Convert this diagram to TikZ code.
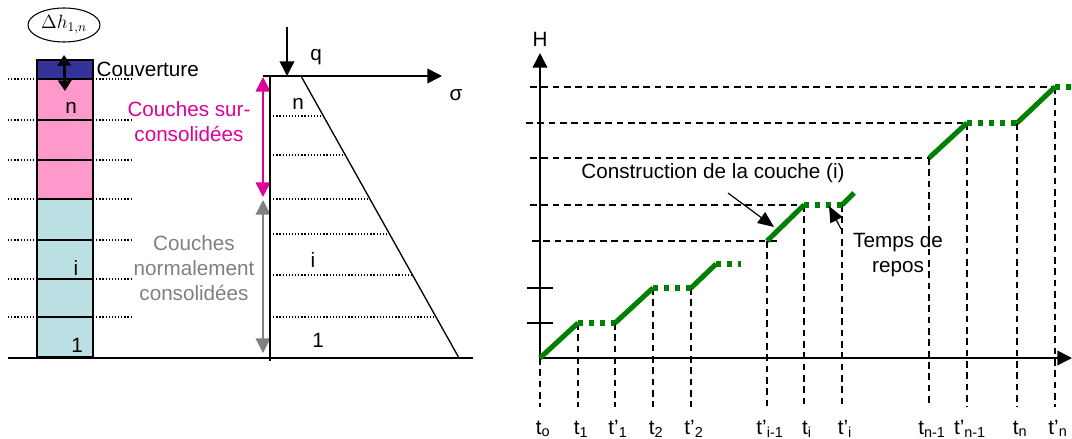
\documentclass[tikz,border=0pt]{standalone}
\usepackage{fontspec}
\setmainfont{Liberation Sans}
\usepackage{tikz}
\usetikzlibrary{arrows.meta,shapes.geometric}
\tikzset{>=Triangle}
\definecolor{rose}{RGB}{255,153,204}
\definecolor{turquoise}{RGB}{187,224,227}
\definecolor{bleucouv}{RGB}{51,51,153}
\definecolor{fuchsia}{RGB}{221,0,153}
\definecolor{gristexte}{RGB}{128,128,128}
\definecolor{vert}{RGB}{0,128,0}
\tikzset{
  etiq/.style={font=\fontsize{15.5}{18.8}\selectfont, inner sep=1pt},
  pointille/.style={line width=0.95pt, dash pattern=on 0.95pt off 1.4pt},
  tirets/.style={line width=0.9pt, dash pattern=on 5pt off 3.5pt},
  montee/.style={vert, line width=3.8pt},
  repos/.style={vert, line width=3.8pt, dash pattern=on 3.8pt off 4.5pt},
  fleche/.style={->, line width=0.9pt, >={Triangle[width=10pt,length=12pt]}},
  grossefleche/.style={line width=1.2pt, >={Triangle[width=11pt,length=11pt]}},
}

\begin{document}
\begin{tikzpicture}[x=0.75pt, y=-0.75pt]
                \useasboundingbox (0,0) rectangle (1072,439);
                % colonne de couches
                \fill[bleucouv] (37,60) rectangle (93,79);
                \fill[rose] (37,79) rectangle (93,199);
                \fill[turquoise] (37,199) rectangle (93,357);
                \foreach \y in {79,120,160,199,240,279,317} {
                    \draw[line width=1pt] (37,\y) -- (93,\y);
                    \draw[pointille] (8,\y) -- (37,\y);
                    \draw[pointille] (93,\y) -- (133,\y);
                }
                \draw[line width=1.1pt] (37,60) rectangle (93,357);
                \node[etiq] (cn) at (71,108) {n};
                \node[etiq] (ci) at (76,268) {i};
                \node[etiq] (c1) at (77,345) {1};
                \node[etiq, anchor=west] (couv) at (95,69) {Couverture};
                % tassement de la couverture
                \node[draw, ellipse, line width=0.8pt, minimum width=54pt, minimum height=25.5pt, inner sep=0pt,
                    font=\fontsize{14}{16}\selectfont] (dh) at (64,25) {$\Delta h_{1,n}$};
                \coordinate (dhbas) at (65,91);
                \draw[<->, line width=2pt, >={Triangle[width=10pt,length=8pt]}] (dh.south |- 0,55) -- (dhbas);
                % sol
                \draw[line width=1.5pt] (8,358) -- (473,358);
                % types de couches
                \node[etiq, fuchsia, align=center] (surc) at (189,122) {Couches sur-\\consolidées};
                \node[etiq, gristexte, align=center] (normc) at (194,268) {Couches\\normalement\\consolidées};
                \draw[grossefleche, fuchsia, <->] (263,77) -- (263,197);
                \draw[grossefleche, gristexte, <->] (263,200) -- (263,353);
                % diagramme des contraintes
                \draw[line width=1.2pt] (270,76) -- (270,361);
                \draw[grossefleche, ->] (263,76) -- (442,76);
                \node[etiq] (sig) at (456,95) {σ};
                \draw[grossefleche, ->] (287,27) -- (287,76);
                \node[etiq] (q) at (316,57) {q};
                \draw[line width=1pt] (301,76) -- (459,358);
                \foreach \y in {116,155,199,234,275,317}
                    \draw[pointille] (270,\y) -- ({301+(\y-76)*0.5603},\y);
                \node[etiq] (sn) at (298,104) {n};
                \node[etiq] (si) at (313,260) {i};
                \node[etiq] (s1) at (318,340) {1};
                % axes H(t)
                \draw[grossefleche, ->] (540,358) -- (540,53) node[etiq, above=3pt] (H) {H};
                \draw[grossefleche, ->] (540,358) -- (1072,358);
                \draw[line width=1pt] (527,288) -- (553,288);
                \draw[line width=1pt] (527,323) -- (553,323);
                % niveaux atteints
                \draw[tirets] (530,87) -- (1055,87);
                \draw[tirets] (526,123) -- (967,123);
                \draw[tirets] (530,158) -- (929,158);
                \draw[tirets] (530,205) -- (804,205);
                \draw[tirets] (532,241) -- (780,241);
                % instants
                \foreach \x/\y/\lab in {540/358/t\textsubscript{o}, 578/323/t\textsubscript{1}, 615/323/t'\textsubscript{1},
                    653/288/t\textsubscript{2}, 691/288/t'\textsubscript{2}, 767/241/t’\textsubscript{i-1},
                    804/205/t\textsubscript{i}, 842/205/t'\textsubscript{i}, 929/158/t\textsubscript{n-1},
                    967/123/t’\textsubscript{n-1}, 1017/123/t\textsubscript{n}, 1055/87/t’\textsubscript{n}} {
                    \draw[tirets] (\x,\y) -- (\x,407);
                    \node[etiq, anchor=base] at (\x+3,434) {\lab};
                }
                % montee du remblai
                \draw[montee] (540,358) -- (578,323);
                \draw[repos] (578,323) -- (615,323);
                \draw[montee] (615,323) -- (653,288);
                \draw[repos] (653,288) -- (691,288);
                \draw[montee] (691,288) -- (716,264);
                \draw[repos] (716,264) -- (741,264);
                \draw[montee] (767,241) -- (804,205);
                \draw[repos] (804,205) -- (842,205);
                \draw[montee] (842,205) -- (854,193);
                \draw[montee] (929,158) -- (967,123);
                \draw[repos] (967,123) -- (1017,123);
                \draw[montee] (1017,123) -- (1055,87);
                \draw[repos] (1055,87) -- (1072,87);
                % annotations
                \node[etiq] (constr) at (713,173) {Construction de la couche (i)};
                \coordinate (pconstr) at (774,227);
                \draw[fleche] (728,193) -- (pconstr);
                \node[etiq, align=center] (trepos) at (898,255) {Temps de\\repos};
                \coordinate (prepos) at (829,206);
                \draw[fleche] (841,229) -- (prepos);
\end{tikzpicture}
\end{document}
